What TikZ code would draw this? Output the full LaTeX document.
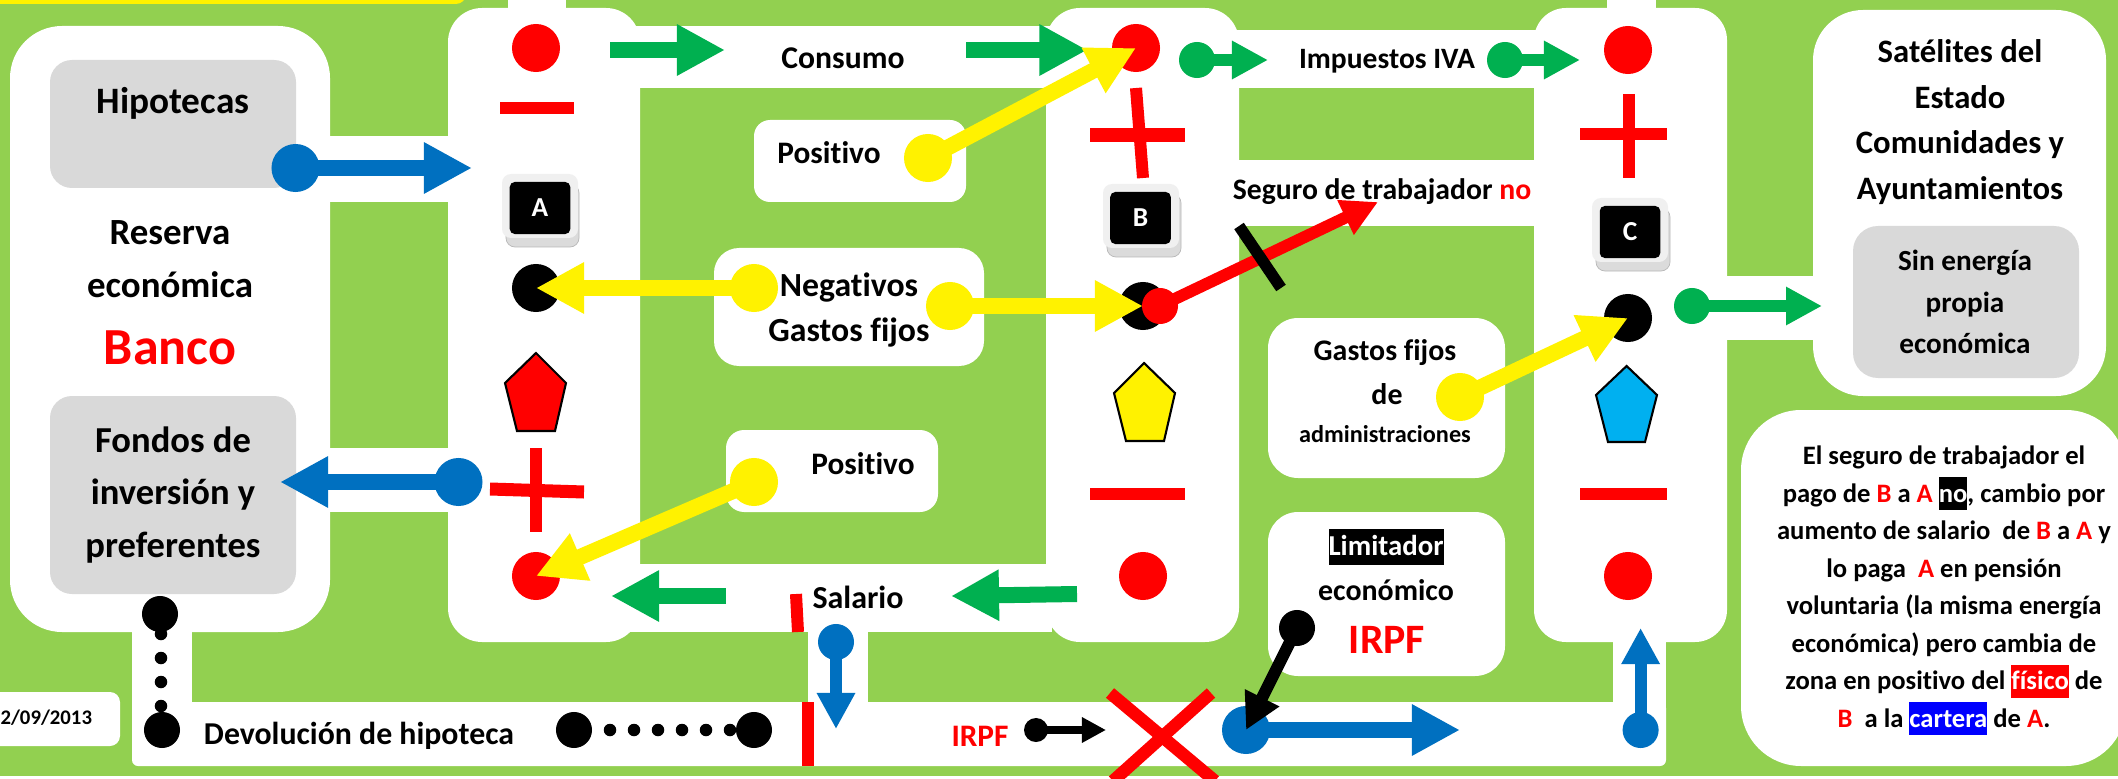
\documentclass[tikz,border=0pt]{standalone}
\usepackage{fontspec}
\setmainfont{Carlito}[Ligatures=NoCommon]
\usetikzlibrary{arrows.meta}
\definecolor{bggreen}{RGB}{146,208,80}
\definecolor{boxgrey}{RGB}{217,217,217}
\definecolor{arrblue}{RGB}{0,112,192}
\definecolor{arrgreen}{RGB}{0,176,80}
\definecolor{penblue}{RGB}{0,176,240}
\newcommand\fs[2]{\fontsize{#1}{#2}\selectfont\bfseries}
\newcommand\rd[1]{\textcolor{red}{#1}}
\newcommand\hlbox[2]{{\setlength{\fboxsep}{0pt}\colorbox{#1}{\rule[-2.3pt]{0pt}{9.4pt}\textcolor{white}{#2}}}}
\tikzset{
  lab/.style={inner sep=0pt,outer sep=0pt,align=center,text=black},
  blobL/.style={circle,fill=#1,minimum size=.48cm,inner sep=0pt,outer sep=0pt},
  blobM/.style={circle,fill=#1,minimum size=.36cm,inner sep=0pt,outer sep=0pt},
  blobS/.style={circle,fill=#1,minimum size=.24cm,inner sep=0pt,outer sep=0pt},
  pip/.style={circle,fill=black,minimum size=.125cm,inner sep=0pt,outer sep=0pt},
  arrL/.style={draw=#1,line width=.16cm,-{Triangle[length=.48cm,width=.48cm]}},
  arrM/.style={draw=#1,line width=.12cm,-{Triangle[length=.36cm,width=.36cm]}},
  arrS/.style={draw=#1,line width=.08cm,-{Triangle[length=.24cm,width=.24cm]}},
  stem/.style={red,line width=.12cm},
  keycap/.style={rounded corners=.05cm,fill=black,text=white,minimum width=.605cm,minimum height=.52cm,inner sep=0pt,outer sep=0pt,font=\fs{7.8}{8}},
  keyrim/.style={rounded corners=.09cm,fill=black!6},
  keybase/.style={rounded corners=.09cm,fill=black!14,draw=black!28,line width=.2pt},
  pent/.style={draw=black,line width=.6pt,line join=miter},
}
\begin{document}
\begin{tikzpicture}[x=0.01cm,y=-0.01cm]
\useasboundingbox (0,0) rectangle (2118,779);
\clip (0,0) rectangle (2118,779);
\fill[bggreen] (0,0) rectangle (2118,779);
\fill[white] (0,776) rectangle (2118,779);
% top bar
\fill[yellow,rounded corners=.1cm] (-20,-20) rectangle (466,4);
% white maze
\fill[white,rounded corners=.52cm] (10,26) rectangle (330,632);
\fill[white] (325,136) rectangle (452,202);
\fill[white] (325,448) rectangle (452,512);
\fill[white,rounded corners=.34cm] (448,8) rectangle (640,642);
\fill[white] (508,0) rectangle (566,12);
\fill[white] (630,26) rectangle (1052,88);
\fill[white] (630,564) rectangle (1052,632);
\fill[white,rounded corners=.34cm] (1046,8) rectangle (1239,642);
\fill[white] (1235,30) rectangle (1540,88);
\fill[white] (1235,160) rectangle (1540,226);
\fill[white,rounded corners=.32cm] (1534,8) rectangle (1727,642);
\fill[white] (1607,0) rectangle (1656,12);
\fill[white] (1723,276) rectangle (1818,340);
\fill[white] (1612.5,636) rectangle (1666,710);
\fill[white] (808,628) rectangle (868,706);
\fill[white] (132,628) rectangle (192,710);
\fill[white,rounded corners=.06cm] (132,702) rectangle (1666,766);
\fill[white,rounded corners=.5cm] (1813,10) rectangle (2106,396);
\fill[white,rounded corners=.6cm] (1741,410) rectangle (2126,766);
% free-standing boxes
\fill[white,rounded corners=.1cm] (-20,692) rectangle (120,746);
\fill[white,rounded corners=.16cm] (754,120) rectangle (966,202);
\fill[white,rounded corners=.25cm] (714,248) rectangle (984,366);
\fill[white,rounded corners=.18cm] (726,430) rectangle (938,512);
\fill[white,rounded corners=.3cm] (1268,318) rectangle (1505,478);
\fill[white,rounded corners=.3cm] (1268,512) rectangle (1505,676);
% grey boxes
\fill[boxgrey,rounded corners=.22cm] (50,60) rectangle (296,188);
\fill[boxgrey,rounded corners=.22cm] (50,396) rectangle (296,594);
\fill[boxgrey,rounded corners=.25cm] (1853,226) rectangle (2079,378);
% texts
\node[lab,font=\fs{10.6}{13}] (hipo) at (173,103) {Hipotecas};
\node[lab,font=\fs{10.5}{15.1}] (reserva) at (170,259) {Reserva\\económica};
\node[lab,font=\fs{14.8}{16},text=red] (banco) at (170,348) {Banco};
\node[lab,font=\fs{10.4}{15}] (fondos) at (173,495) {Fondos de\\inversión y\\preferentes};
\node[lab,font=\fs{5.9}{7},anchor=east] (fecha) at (92,718) {2/09/2013};
\node[lab,font=\fs{9}{11}] (consumo) at (843,58) {Consumo};
\node[lab,font=\fs{8.4}{11}] (iva) at (1387,61) {Impuestos IVA};
\node[lab,font=\fs{8.45}{11}] (seguro) at (1382,192) {Seguro de trabajador \rd{no}};
\node[lab,font=\fs{8.9}{11}] (pos1) at (829,153) {Positivo};
\node[lab,font=\fs{9.6}{12.9}] (neg) at (849,310) {Negativos\\Gastos fijos};
\node[lab,font=\fs{8.9}{11}] (pos2) at (863,464) {Positivo};
\node[lab,font=\fs{9.1}{11}] (salario) at (858,597) {Salario};
\node[lab,font=\fs{9.05}{11}] (devo) at (359,736) {Devolución de hipoteca};
\node[lab,font=\fs{8.9}{11},text=red] (irpfa) at (980,736) {IRPF};
\node[lab,font=\fs{8.5}{11}] (gf1) at (1385,353) {Gastos fijos};
\node[lab,font=\fs{8.5}{11}] (gf2) at (1387,394) {de};
\node[lab,font=\fs{6.9}{9}] (gf3) at (1385,434) {administraciones};
\node[lab,font=\fs{8.2}{11}] (limit) at (1386,547) {{\setlength{\fboxsep}{0pt}\colorbox{black}{\rule[-2.8pt]{0pt}{10.2pt}\textcolor{white}{Limitador}}}};
\node[lab,font=\fs{8.5}{11}] (econ) at (1386,590) {económico};
\node[lab,font=\fs{11.9}{14},text=red] (irpfb) at (1387,640) {IRPF};
\node[lab,font=\fs{9.3}{13}] (sat) at (1960,122) {Satélites del\\Estado\\Comunidades y\\Ayuntamientos};
\node[lab,font=\fs{8.3}{11.7}] (sin) at (1965,302) {Sin energía\\propia\\económica};
\node[lab,font=\fs{7.57}{10.66}] (nota) at (1944,590.5) {El seguro de trabajador el\\
pago de \rd{B} a \rd{A} \hlbox{black}{no}, cambio por\\
aumento de salario\ \ de \rd{B} a \rd{A} y\\
lo paga\ \ \rd{A} en pensión\\
voluntaria (la misma energía\\
económica) pero cambia de\\
zona en positivo del \hlbox{red}{físico} de\\
\rd{B}\ \ a la \hlbox{blue}{cartera} de \rd{A}.};
% signs column A
\fill[red] (500,102) rectangle (574,114);
\draw[stem] (536,448) -- (536,532);
\draw[stem,line width=.13cm] (490,489) -- (584,492);
% signs column B
\draw[stem] (1136,88) -- (1143,178);
\draw[stem,line width=.14cm] (1090,135) -- (1185,135);
\fill[red] (1090,488) rectangle (1185,500);
% signs column C
\draw[stem] (1628.5,94) -- (1628.5,178);
\draw[stem] (1580,134) -- (1666.5,134);
\fill[red] (1580,488) rectangle (1666.5,500);
% keys
\fill[keybase] (506,184) rectangle (579,247);
\fill[keyrim] (502,174) rectangle (578,238);
\node[keycap] (keyA) at (540,208) {A};
\fill[keybase] (1107,194) rectangle (1181,257);
\fill[keyrim] (1103,184) rectangle (1179,248);
\node[keycap] (keyB) at (1140.5,218) {B};
\fill[keybase] (1596,208) rectangle (1670,271);
\fill[keyrim] (1592,198) rectangle (1668,262);
\node[keycap] (keyC) at (1630,232) {C};
% pentagons
\draw[pent,fill=red] (536,353) -- (566,383) -- (555,431) -- (517,431) -- (505,383) -- cycle;
\draw[pent,fill=yellow] (1144,363) -- (1175,393) -- (1164,441) -- (1126,441) -- (1114,393) -- cycle;
\draw[pent,fill=penblue] (1626.6,366) -- (1657,395) -- (1645,442) -- (1608,442) -- (1596,395) -- cycle;
% discs
\node[blobL=red] (ra1) at (536,48) {};
\node[blobL=black] (ka) at (536,288) {};
\node[blobL=red] (ra2) at (536,576) {};
\node[blobL=red] (rb1) at (1136,48) {};
\node[blobL=black] (kb) at (1143,306) {};
\node[blobL=red] (rb2) at (1143,576) {};
\node[blobL=red] (rc1) at (1628,50) {};
\node[blobL=black] (kc) at (1628,318) {};
\node[blobL=red] (rc2) at (1628,576) {};
% connector end points
\coordinate (g1s) at (610,50);   \coordinate (g1e) at (725,50);
\coordinate (g2s) at (966,50);   \coordinate (g2e) at (1087.5,50);
\coordinate (g3s) at (726,596);  \coordinate (g3e) at (611,596);
\coordinate (g4s) at (1077,594); \coordinate (g4e) at (951,596);
\coordinate (tipIva) at (1268,60);
\coordinate (tipC) at (1580,60);
\coordinate (tipSat) at (1822,306);
\coordinate (tipHip) at (472,168);
\coordinate (tipFon) at (280,482);
\coordinate (tipSal) at (836,729);
\coordinate (tipUp) at (1640.6,628);
\coordinate (tipBig) at (1460,730);
\coordinate (tipX) at (1106,730);
\coordinate (tipSeg) at (1378,202);
% green arrows
\draw[arrL=arrgreen] (g1s) -- (g1e);
\draw[arrL=arrgreen] (g2s) -- (g2e);
\draw[arrL=arrgreen] (g3s) -- (g3e);
\draw[arrL=arrgreen] (g4s) -- (g4e);
\node[blobM=arrgreen] (giva) at (1197,60) {};
\draw[arrM=arrgreen] (giva.center) -- (tipIva);
\node[blobM=arrgreen] (gc) at (1505,60) {};
\draw[arrM=arrgreen] (gc.center) -- (tipC);
\node[blobM=arrgreen] (gsat) at (1692,306) {};
\draw[arrM=arrgreen] (gsat.center) -- (tipSat);
% blue arrows
\node[blobL=arrblue] (bhip) at (295.5,168) {};
\draw[arrL=arrblue] (bhip.center) -- (tipHip);
\node[blobL=arrblue] (bfon) at (458.5,482) {};
\draw[arrL=arrblue] (bfon.center) -- (tipFon);
\node[blobM=arrblue] (bsal) at (836,642) {};
\draw[arrM=arrblue] (bsal.center) -- (tipSal);
\node[blobM=arrblue] (bup) at (1640.6,730) {};
\draw[arrM=arrblue] (bup.center) -- (tipUp);
\node[blobL=arrblue] (bbig) at (1246,730) {};
\draw[arrL=arrblue] (bbig.center) -- (tipBig);
% yellow arrows
\node[blobL=yellow] (ypos1) at (928,158) {};
\draw[arrL=yellow] (ypos1.center) -- (rb1.center);
\node[blobL=yellow] (yneg1) at (754,288) {};
\draw[arrL=yellow] (yneg1.center) -- (ka.center);
\node[blobL=yellow] (yneg2) at (950,306) {};
\draw[arrL=yellow] (yneg2.center) -- (kb.center);
\node[blobL=yellow] (ypos2) at (754,482) {};
\draw[arrL=yellow] (ypos2.center) -- (ra2.center);
\node[blobL=yellow] (ygf) at (1460,397) {};
\draw[arrL=yellow] (ygf.center) -- (kc.center);
% red arrow and barrier
\draw[arrM=red] (1160,306) -- (tipSeg);
\node[blobM=red] (rseg) at (1160,306) {};
\draw[black,line width=.115cm] (1239,226) -- (1281,288);
% black arrows
\node[blobM=black] (blim) at (1297,628) {};
\draw[arrM=black] (blim.center) -- (bbig.center);
\node[blobS=black] (birpf) at (1036,730) {};
\draw[arrS=black] (birpf.center) -- (tipX);
% red X
\draw[red,line width=.125cm] (1110,693) -- (1215,781);
\draw[red,line width=.125cm] (1211,693) -- (1113,781);
% red bars
\draw[red,line width=.12cm] (796,594) -- (798,632);
\fill[red] (802,702) rectangle (814,766);
% black dots
\node[blobM=black] (d1) at (160,614) {};
\node[pip] (d2) at (161,634) {};
\node[pip] (d3) at (161,658) {};
\node[pip] (d4) at (161,682) {};
\node[pip] (d5) at (161,706) {};
\node[blobM=black] (d6) at (162,730) {};
\node[blobM=black] (h1) at (574,730) {};
\node[pip] (h2) at (610,730) {};
\node[pip] (h3) at (634,730) {};
\node[pip] (h4) at (658,730) {};
\node[pip] (h5) at (682,730) {};
\node[pip] (h6) at (706,730) {};
\node[pip] (h7) at (730,730) {};
\node[blobM=black] (h8) at (754,730) {};
\end{tikzpicture}
\end{document}
